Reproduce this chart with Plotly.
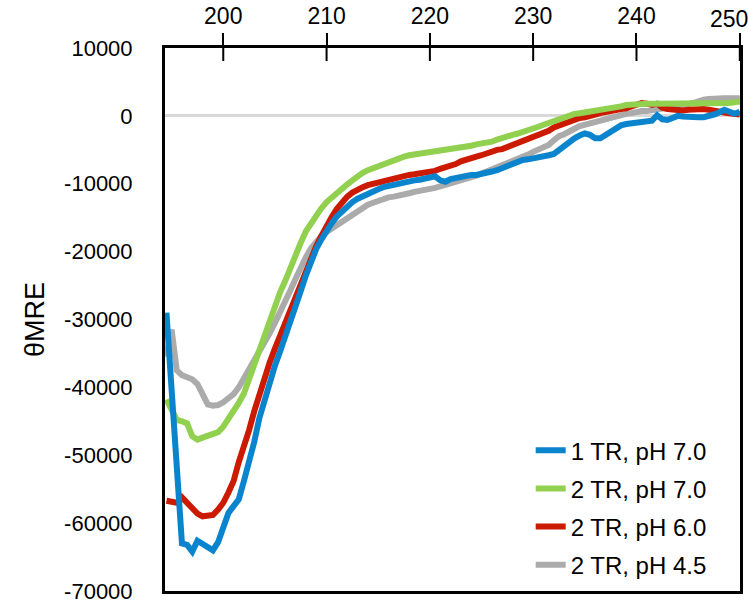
import plotly.graph_objects as go

wavelength = [194.5 + 0.5 * i for i in range(112)]

tr1_ph70 = [
    -29000, -40000, -51500, -63000, -63200, -64200, -62600, -63000, -63600, -64000,
    -62800, -60500, -58500, -57500, -56500, -53800, -51200, -48000, -44500, -41800,
    -39200, -36800, -34700, -32600, -30600, -28300, -25800, -23500, -21500, -19600,
    -18200, -16900, -15800, -14800, -14000, -13300, -12700, -12200, -11800, -11500,
    -11100, -10800, -10500, -10300, -10100, -10000, -9800, -9600, -9500, -9400,
    -9300, -9200, -8900, -9500, -9700, -9300, -9100, -9000, -8800, -8700,
    -8700, -8600, -8400, -8200, -8000, -7700, -7200, -6900, -6700, -6500,
    -6400, -6300, -6100, -6000, -5800, -5600, -5000, -4400, -3900, -3300,
    -2900, -2600, -2800, -3300, -3300, -2800, -2300, -1800, -1400, -1200,
    -1100, -1100, -1100, -1000, -700, 100, -500, -600, -300, 0,
    -100, -200, -200, -200, -200, -100, 200, 500, 900, 600,
    300, 600,
]

tr2_ph70 = [
    -41800, -43500, -44800, -45000, -45300, -47200, -47700, -47400, -47200, -47000,
    -46600, -45800, -44700, -43500, -42300, -40900, -38700, -37000, -34800, -32500,
    -30300, -28300, -26000, -24300, -22300, -20500, -18700, -17000, -15800, -14600,
    -13600, -12700, -12000, -11300, -10700, -10100, -9500, -8900, -8400, -8000,
    -7700, -7300, -7100, -6800, -6500, -6300, -6000, -5800, -5700, -5500,
    -5300, -5200, -5100, -5000, -4900, -4800, -4700, -4700, -4600, -4400,
    -4200, -4100, -4000, -3800, -3500, -3200, -3000, -2800, -2600, -2400,
    -2200, -1900, -1600, -1300, -1000, -700, -400, -200, 100, 300,
    400, 500, 600, 700, 800, 1000, 1100, 1300, 1400, 1600,
    1700, 1700, 1700, 1800, 1800, 1800, 1800, 1800, 1800, 1800,
    1800, 1800, 1800, 1800, 1800, 1700, 1700, 1700, 1800, 1900,
    2000, 2100,
]

tr2_ph60 = [
    -56700, -56800, -57000, -56200, -57000, -58000, -58600, -59000, -59000, -58800,
    -58000, -57000, -55500, -53800, -51000, -48800, -46300, -43500, -41000, -38700,
    -36300, -34300, -32400, -30500, -28500, -26500, -24500, -22600, -20800, -19200,
    -17700, -16200, -14900, -13700, -12700, -11900, -11300, -10800, -10500, -10200,
    -10000, -9800, -9600, -9300, -9100, -9000, -8800, -8700, -8600, -8500,
    -8300, -8200, -8100, -7800, -7600, -7400, -7100, -6700, -6400, -6200,
    -6000, -5800, -5500, -5200, -5000, -4900, -4600, -4300, -4000, -3700,
    -3400, -3200, -2900, -2600, -2200, -1700, -1400, -1100, -700, -500,
    -300, -200, -100, 200, 400, 600, 700, 800, 1000, 1100,
    1400, 1700, 1900, 1800, 1600, 1800, 1200, 1000, 900, 900,
    800, 900, 1000, 1000, 1000, 900, 700, 600, 500, 400,
    300, 200,
]

tr2_ph45 = [
    -35500, -31500, -37500, -38200, -38500, -38800, -39500, -40800, -42500, -42700,
    -42600, -42200, -41700, -41000, -40000, -38700, -37500, -36300, -35000, -33600,
    -32000, -30500, -29000, -27400, -25700, -24000, -22300, -20800, -19500, -18500,
    -17700, -17100, -16600, -16100, -15600, -15100, -14500, -13900, -13400, -13100,
    -12800, -12500, -12200, -12000, -11900, -11800, -11600, -11400, -11200, -11100,
    -11000, -10800, -10600, -10400, -10200, -10000, -9800, -9500, -9300, -9100,
    -8800, -8500, -8200, -8000, -7700, -7400, -7000, -6700, -6400, -6100,
    -5700, -5300, -5000, -4700, -4300, -3600, -3000, -2700, -2400, -1900,
    -1500, -1300, -1100, -800, -500, -300, -100, 0, 200, 300,
    400, 600, 700, 700, 800, 900, 1100, 1200, 1300, 1400,
    1600, 1700, 1900, 2200, 2400, 2500, 2600, 2600, 2600, 2600,
    2600, 2600,
]

series_names = ["1 TR, pH 7.0", "2 TR, pH 7.0", "2 TR, pH 6.0", "2 TR, pH 4.5"]
series_values = [tr1_ph70, tr2_ph70, tr2_ph60, tr2_ph45]
series_colors = ["#0B84CE", "#92D050", "#CC1A00", "#ABABAB"]

x_ticks = [200, 210, 220, 230, 240, 250]
x_tick_text = ["200", "210", "220", "230", "240", ""]   # "250" drawn below, nudged inside page
y_ticks = [10000, 0, -10000, -20000, -30000, -40000, -50000, -60000, -70000]
y_tick_text = ["10000", "0", "-10000", "-20000", "-30000", "-40000", "-50000",
               "-60000", "-70000"]

FONT = "Liberation Sans, Arial, sans-serif"
X_RANGE = [194.36, 250.02]
Y_RANGE = [-70000, 10000]
PLOT_H_PX = 543
TICK_OUT_PX, TICK_IN_PX = 12, 13

fig = go.Figure()
order = [3, 2, 1, 0]
for i in order:
    fig.add_trace(go.Scatter(
        x=wavelength, y=series_values[i], mode="lines", name=series_names[i],
        legendgroup=series_names[i], legendrank=i + 1,
        line=dict(color=series_colors[i], width=6),
    ))

# inner half of the crossing tick marks on the top axis (derived from the tick list)
tick_depth = TICK_IN_PX / PLOT_H_PX * (Y_RANGE[1] - Y_RANGE[0])
tx, ty = [], []
for v in x_ticks:
    tx += [v, v, None]
    ty += [Y_RANGE[1], Y_RANGE[1] - tick_depth, None]
fig.add_trace(go.Scatter(x=tx, y=ty, mode="lines", line=dict(color="black", width=2),
                         showlegend=False, hoverinfo="skip", cliponaxis=False))

fig.add_annotation(text=str(x_ticks[-1]), xref="x", yref="paper", x=x_ticks[-1], y=1,
                   xanchor="center", yanchor="bottom", xshift=-11,
                   yshift=TICK_OUT_PX + 2, showarrow=False,
                   font=dict(size=23, family=FONT, color="black"))

fig.update_layout(
    width=748, height=607,
    margin=dict(l=165, r=8, t=48, b=16),
    paper_bgcolor="white", plot_bgcolor="white",
    font=dict(family=FONT, color="black"),
    showlegend=True,
    legend=dict(
        x=0.636, xanchor="left", y=0.30, yanchor="top",
        bgcolor="rgba(0,0,0,0)", borderwidth=0,
        font=dict(size=24, family=FONT, color="black"),
        traceorder="grouped", tracegroupgap=4,
    ),
    xaxis=dict(
        side="top", range=X_RANGE, tickvals=x_ticks, ticktext=x_tick_text,
        ticks="outside", ticklen=TICK_OUT_PX, tickwidth=2, tickcolor="black",
        showline=True, mirror=True, linewidth=3, linecolor="black",
        showgrid=False, zeroline=False, automargin=False,
        tickfont=dict(size=23, family=FONT, color="black"),
    ),
    yaxis=dict(
        range=Y_RANGE, tickvals=y_ticks, ticktext=y_tick_text,
        ticks="", showline=True, mirror=True, linewidth=3, linecolor="black",
        showgrid=False, zeroline=True, zerolinecolor="#D9D9D9", zerolinewidth=3,
        automargin=False, ticklabelstandoff=25,
        tickfont=dict(size=22, family=FONT, color="black"),
        title=dict(text="θMRE", font=dict(size=27, family=FONT, color="black"),
                   standoff=12),
    ),
)

fig.write_html("out.html")
